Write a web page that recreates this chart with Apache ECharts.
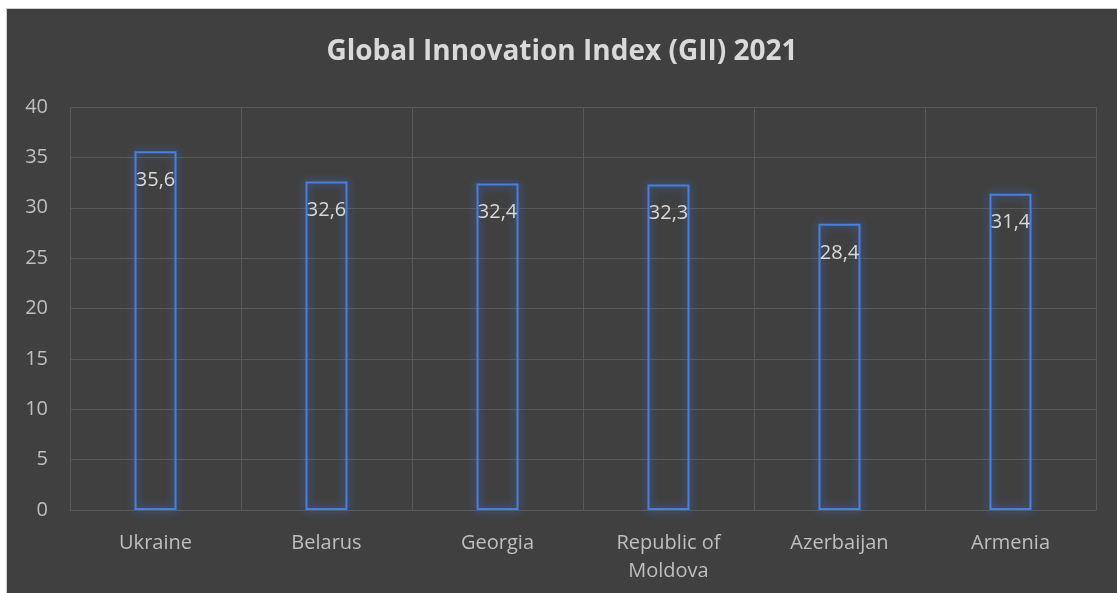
<!DOCTYPE html>
<html>
<head>
<meta charset="utf-8">
<script src="https://cdn.jsdelivr.net/npm/echarts@6/dist/echarts.min.js"></script>
<style>
html,body{margin:0;padding:0;background:#ffffff;width:1117px;height:593px;overflow:hidden;}
#chart{position:absolute;left:6px;top:8px;width:1111px;height:585px;background:#404040;border-left:1px solid #cfcfcf;border-top:1px solid #cfcfcf;box-sizing:border-box;}
</style>
</head>
<body>
<div id="chart"></div>
<script>
const titleText = 'Global Innovation Index (GII) 2021';
const categories = ['Ukraine', 'Belarus', 'Georgia', 'Republic of\nMoldova', 'Azerbaijan', 'Armenia'];
const values = [35.6, 32.6, 32.4, 32.3, 28.4, 31.4];
const yMin = 0, yMax = 40, yStep = 5;

const chart = echarts.init(document.getElementById('chart'));
const font = '"Open Sans", "Noto Sans", sans-serif';
chart.setOption({
  backgroundColor: 'transparent',
  animation: false,
  title: {
    text: titleText,
    left: 'center',
    top: 24,
    textStyle: { color: '#d9d9d9', fontSize: 28, fontWeight: 'bold', fontFamily: font }
  },
  grid: { left: 63, right: 21, top: 98, bottom: 83 },
  xAxis: {
    type: 'category',
    data: categories,
    axisLine: { show: true, lineStyle: { color: '#595959' } },
    axisTick: { show: false },
    splitLine: { show: true, lineStyle: { color: '#595959', width: 1 } },
    axisLabel: { color: '#bfbfbf', fontSize: 20, fontFamily: font, margin: 19, lineHeight: 28, interval: 0 }
  },
  yAxis: {
    type: 'value',
    min: yMin, max: yMax, interval: yStep,
    axisLine: { show: false },
    axisTick: { show: false },
    splitLine: { show: true, lineStyle: { color: '#595959', width: 1 } },
    axisLabel: { color: '#bfbfbf', fontSize: 20, fontFamily: font, margin: 22 }
  },
  series: [{
    type: 'bar',
    data: values,
    barWidth: 42,
    itemStyle: {
      color: 'rgba(0,0,0,0)',
      borderColor: '#4a80dc',
      borderWidth: 2,
      shadowColor: 'rgba(60,110,210,1)',
      shadowBlur: 8
    },
    label: {
      show: true,
      position: 'insideTop',
      distance: 19,
      color: '#d9d9d9',
      fontSize: 20,
      fontFamily: font,
      formatter: p => String(p.value).replace('.', ',')
    }
  }]
});
</script>
</body>
</html>
